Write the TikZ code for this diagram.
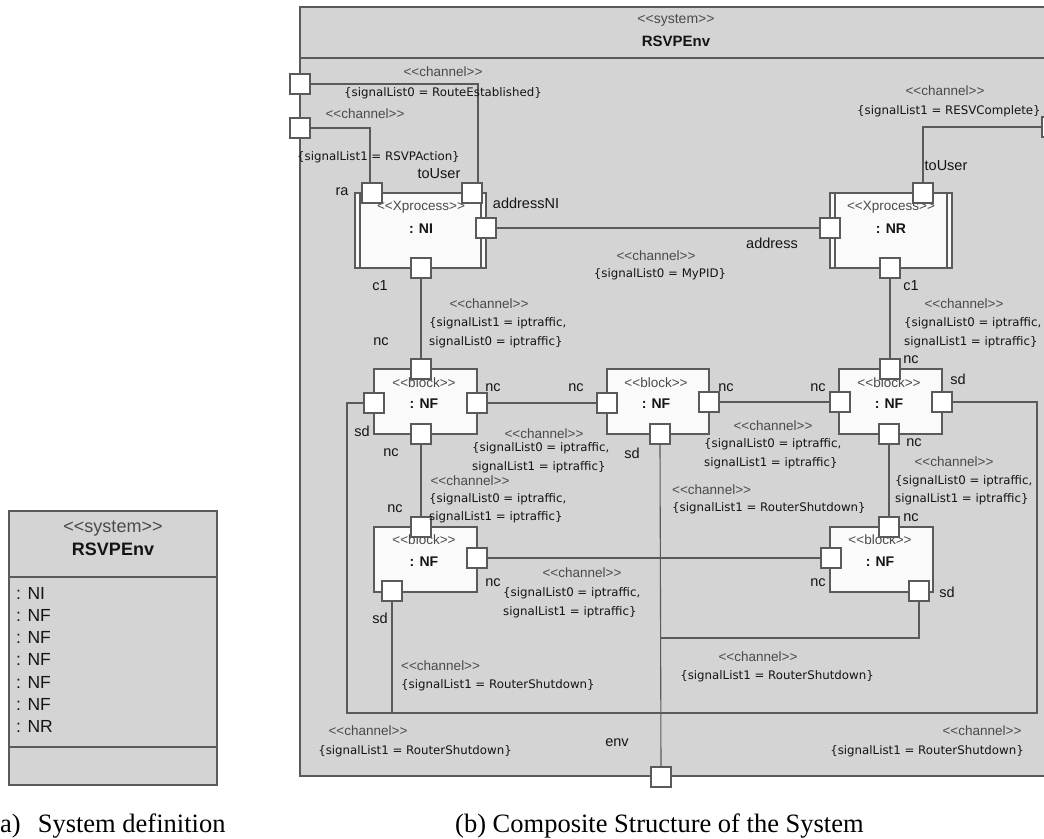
\documentclass[tikz,border=0pt]{standalone}
\usepackage{fontspec}
\setmainfont{Liberation Serif}
\newfontfamily\uifont{Liberation Sans}
\newfontfamily\cnfont{DejaVu Sans}
\usetikzlibrary{calc}

\definecolor{framefill}{HTML}{D4D4D4}
\definecolor{edgegray}{HTML}{5A5A5A}
\definecolor{boxfill}{HTML}{FAFAFA}
\definecolor{stereogray}{HTML}{4A4A4A}
\definecolor{inkdark}{HTML}{141414}

\tikzset{
  port/.style={rectangle, draw=edgegray, fill=white, line width=1.1pt,
    minimum size=20pt, inner sep=0pt},
  partbox/.style={draw=edgegray, fill=boxfill, line width=1.1pt},
  wire/.style={draw=edgegray, line width=1.1pt},
  stereo/.style={font=\uifont\fontsize{13.5}{16}\selectfont, text=stereogray, inner sep=0pt},
  partname/.style={font=\uifont\bfseries\fontsize{14}{16}\selectfont, text=inkdark, inner sep=0pt},
  portlbl/.style={font=\uifont\fontsize{14.5}{16}\selectfont, text=inkdark, inner sep=0pt},
  cons/.style={font=\cnfont\fontsize{11.8}{14}\selectfont, text=inkdark, inner sep=0pt},
  caption/.style={font=\fontsize{26.5}{30}\selectfont, text=black, inner sep=0pt, anchor=base west},
  listitem/.style={font=\uifont\fontsize{17.5}{20}\selectfont, text=inkdark, inner sep=0pt, anchor=west},
}

\begin{document}
\begin{tikzpicture}[x=1pt, y=-1pt]
\clip (0,0) rectangle (1044,838);

% ---------- (a) class box of the system ----------
\draw[fill=framefill, draw=edgegray, line width=1.6pt] (9,511) rectangle (217,785);
\draw[edgegray, line width=1.6pt] (9,577) -- (217,577);
\draw[edgegray, line width=1.6pt] (9,747) -- (217,747);
\node[stereo, font=\uifont\fontsize{18}{20}\selectfont] (defst) at (113,529) {<<system>>};
\node[partname, font=\uifont\bfseries\fontsize{18}{20}\selectfont] (defname) at (113,549) {RSVPEnv};
\node[listitem] (it1) at (16,593) {: NI};
\node[listitem] (it2) at (16,615) {: NF};
\node[listitem] (it3) at (16,637) {: NF};
\node[listitem] (it4) at (16,659) {: NF};
\node[listitem] (it5) at (16,682) {: NF};
\node[listitem] (it6) at (16,704) {: NF};
\node[listitem] (it7) at (16,726) {: NR};
\node[caption] (capa) at (-9,832) {(a)\hspace{0.4em} System definition};

% ---------- (b) composite structure ----------
\draw[fill=framefill, draw=edgegray, line width=1.6pt] (300,7) rectangle (1052,776);
\draw[edgegray, line width=1.6pt] (300,58) -- (1052,58);
\node[stereo, font=\uifont\fontsize{14}{16}\selectfont] (sysst) at (676,20) {<<system>>};
\node[partname, font=\uifont\bfseries\fontsize{15}{17}\selectfont] (sysname) at (676,41) {RSVPEnv};

% parts
\path[partbox] (355,193) rectangle (486,268);
\draw[edgegray, line width=1.1pt] (360,193) -- (360,268) (481,193) -- (481,268);
\path[partbox] (830,193) rectangle (952,268);
\draw[edgegray, line width=1.1pt] (835,193) -- (835,268) (947,193) -- (947,268);
\path[partbox] (374,369) rectangle (477,434);
\path[partbox] (607,369) rectangle (709,434);
\path[partbox] (839,369) rectangle (942,434);
\path[partbox] (374,527) rectangle (477,592);
\path[partbox] (830,527) rectangle (933,592);

\node[stereo] (nist) at (421,207) {<<Xprocess>>};
\node[partname] (niname) at (421,229) {: NI};
\node[stereo] (nrst) at (891,207) {<<Xprocess>>};
\node[partname] (nrname) at (891,229) {: NR};
\node[stereo] (nf1st) at (424,383) {<<block>>};
\node[partname] (nf1name) at (424,404) {: NF};
\node[stereo] (nf2st) at (656,383) {<<block>>};
\node[partname] (nf2name) at (656,404) {: NF};
\node[stereo] (nf3st) at (889,383) {<<block>>};
\node[partname] (nf3name) at (889,404) {: NF};
\node[stereo] (nf4st) at (424,540) {<<block>>};
\node[partname] (nf4name) at (424,562) {: NF};
\node[stereo] (nf5st) at (880,540) {<<block>>};
\node[partname] (nf5name) at (880,562) {: NF};

% ports
\node[port] (pA) at (300,84) {};
\node[port] (pB) at (300,128) {};
\node[port] (pC) at (1052,127) {};
\node[port] (env) at (661,777) {};
\node[port] (niRa) at (372,193) {};
\node[port] (niTo) at (472,193) {};
\node[port] (niAddr) at (486,228) {};
\node[port] (niC1) at (421,268) {};
\node[port] (nrAddr) at (830,228) {};
\node[port] (nrTo) at (923,193) {};
\node[port] (nrC1) at (890,268) {};
\node[port] (nf1N) at (421,369) {};
\node[port] (nf1Sd) at (374,403) {};
\node[port] (nf1E) at (477,403) {};
\node[port] (nf1S) at (421,434) {};
\node[port] (nf2W) at (607,403) {};
\node[port] (nf2E) at (709,402) {};
\node[port] (nf2Sd) at (660,434) {};
\node[port] (nf3N) at (890,369) {};
\node[port] (nf3W) at (840,402) {};
\node[port] (nf3Sd) at (942,402) {};
\node[port] (nf3S) at (889,434) {};
\node[port] (nf4N) at (421,527) {};
\node[port] (nf4E) at (477,558) {};
\node[port] (nf4Sd) at (392,591) {};
\node[port] (nf5N) at (889,527) {};
\node[port] (nf5W) at (831,558) {};
\node[port] (nf5Sd) at (919,591) {};

% connectors
\coordinate (loopL) at (347,713);
\coordinate (loopR) at (1037,713);
\coordinate (j5) at (661,638);
\draw[wire] (pA.east) -| ([xshift=6pt]niTo.north);
\draw[wire] (pB.east) -| ([xshift=-2pt]niRa.north);
\draw[wire] (niAddr.east) -- (nrAddr.west);
\draw[wire] (nrTo.north) |- (pC.west);
\draw[wire] (niC1.south) -- (nf1N.north);
\draw[wire] (nrC1.south) -- (nf3N.north);
\draw[wire] (nf1E.east) -- (nf2W.west);
\draw[wire] (nf2E.east) -- (nf3W.west);
\draw[wire] (nf1S.south) -- (nf4N.north);
\draw[wire] (nf3S.south) -- (nf5N.north);
\draw[wire] (nf4E.east) -- (nf5W.west);
\draw[wire] (nf1Sd.west) -| (loopL) -- (loopR) |- (nf3Sd.east);
\draw[wire] (nf4Sd.south) -- (nf4Sd.south |- loopL);
\draw[wire] (nf2Sd.south) -- (env.north);
\draw[wire] (nf5Sd.south) |- (j5);

% port labels
\node[portlbl] (lRa) at (342,192) {ra};
\node[portlbl] (lNiTo) at (439,174) {toUser};
\node[portlbl] (lNiAddr) at (526,203) {addressNI};
\node[portlbl] (lNiC1) at (380,286) {c1};
\node[portlbl] (lNrAddr) at (772,243) {address};
\node[portlbl] (lNrTo) at (946,166) {toUser};
\node[portlbl] (lNrC1) at (911,286) {c1};
\node[portlbl] (l1a) at (381,342) {nc};
\node[portlbl] (l1b) at (493,388) {nc};
\node[portlbl] (l1c) at (362,431) {sd};
\node[portlbl] (l1d) at (391,453) {nc};
\node[portlbl] (l2a) at (576,388) {nc};
\node[portlbl] (l2b) at (726,388) {nc};
\node[portlbl] (l2c) at (632,453) {sd};
\node[portlbl] (l3a) at (818,388) {nc};
\node[portlbl] (l3b) at (911,360) {nc};
\node[portlbl] (l3c) at (958,379) {sd};
\node[portlbl] (l3d) at (914,443) {nc};
\node[portlbl] (l4a) at (395,509) {nc};
\node[portlbl] (l4b) at (493,583) {nc};
\node[portlbl] (l4c) at (380,618) {sd};
\node[portlbl] (l5a) at (911,518) {nc};
\node[portlbl] (l5b) at (818,583) {nc};
\node[portlbl] (l5c) at (947,592) {sd};
\node[portlbl] (lEnv) at (617,743) {env};

% channel labels
\node[stereo] (c1s) at (443,72) {<<channel>>};
\node[cons] (c1c) at (443,93) {\{signalList0 = RouteEstablished\}};
\node[stereo] (c2s) at (365,114) {<<channel>>};
\node[cons, anchor=west] (c2c) at (297,157) {\{signalList1 = RSVPAction\}};
\node[stereo] (c3s) at (945,91) {<<channel>>};
\node[cons, anchor=west] (c3c) at (857,111) {\{signalList1 = RESVComplete\}};
\node[stereo] (c4s) at (656,256) {<<channel>>};
\node[cons] (c4c) at (660,274) {\{signalList0 = MyPID\}};
\node[stereo] (c5s) at (489,304) {<<channel>>};
\node[cons, anchor=west] (c5c) at (429,323) {\{signalList1 = iptraffic,};
\node[cons, anchor=west] (c5d) at (429,342) {signalList0 = iptraffic\}};
\node[stereo] (c6s) at (964,304) {<<channel>>};
\node[cons, anchor=west] (c6c) at (904,323) {\{signalList0 = iptraffic,};
\node[cons, anchor=west] (c6d) at (904,342) {signalList1 = iptraffic\}};
\node[stereo] (c7s) at (544,434) {<<channel>>};
\node[cons, anchor=west] (c7c) at (472,448) {\{signalList0 = iptraffic,};
\node[cons, anchor=west] (c7d) at (472,467) {signalList1 = iptraffic\}};
\node[stereo] (c8s) at (773,426) {<<channel>>};
\node[cons, anchor=west] (c8c) at (704,444) {\{signalList0 = iptraffic,};
\node[cons, anchor=west] (c8d) at (704,463) {signalList1 = iptraffic\}};
\node[stereo] (c9s) at (470,481) {<<channel>>};
\node[cons, anchor=west] (c9c) at (429,499) {\{signalList0 = iptraffic,};
\node[cons, anchor=west] (c9d) at (429,517) {signalList1 = iptraffic\}};
\node[stereo] (c10s) at (954,462) {<<channel>>};
\node[cons, anchor=west] (c10c) at (895,481) {\{signalList0 = iptraffic,};
\node[cons, anchor=west] (c10d) at (895,499) {signalList1 = iptraffic\}};
\node[stereo] (c11s) at (582,573) {<<channel>>};
\node[cons, anchor=west] (c11c) at (503,593) {\{signalList0 = iptraffic,};
\node[cons, anchor=west] (c11d) at (503,612) {signalList1 = iptraffic\}};
\node[stereo, anchor=west] (c12s) at (672,490) {<<channel>>};
\node[cons, anchor=west] (c12c) at (672,508) {\{signalList1 = RouterShutdown\}};
\node[stereo] (c13s) at (758,657) {<<channel>>};
\node[cons] (c13c) at (777,676) {\{signalList1 = RouterShutdown\}};
\node[stereo, anchor=west] (c14s) at (401,666) {<<channel>>};
\node[cons, anchor=west] (c14c) at (401,685) {\{signalList1 = RouterShutdown\}};
\node[stereo] (c15s) at (368,731) {<<channel>>};
\node[cons] (c15c) at (415,751) {\{signalList1 = RouterShutdown\}};
\node[stereo] (c16s) at (982,731) {<<channel>>};
\node[cons] (c16c) at (927,751) {\{signalList1 = RouterShutdown\}};

\node[caption] (capb) at (455,832) {(b) Composite Structure of the System};
\end{tikzpicture}
\end{document}
